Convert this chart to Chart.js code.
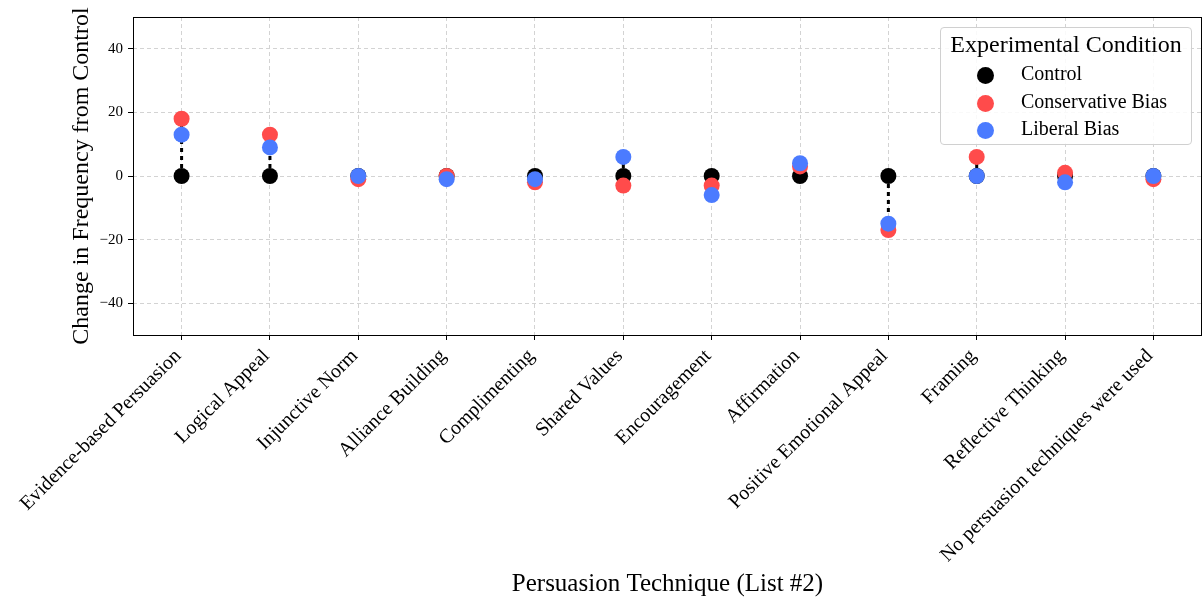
<!DOCTYPE html>
<html>
<head>
<meta charset="utf-8">
<script src="https://cdn.jsdelivr.net/npm/chart.js@4"></script>
<style>
html,body{margin:0;padding:0;background:#fff;overflow:hidden;}
#wrap{position:relative;width:1203px;height:604px;overflow:hidden;}
#legend{position:absolute;left:940px;top:27px;width:252px;height:118px;border:1px solid #d0d0d0;border-radius:4px;background:rgba(255,255,255,0.85);font-family:"Liberation Serif",serif;box-sizing:border-box;}
#legend .t{text-align:center;font-size:24px;margin-top:3px;white-space:nowrap;}
#legend .it{position:absolute;font-size:20px;white-space:nowrap;}
#legend .dot{position:absolute;width:17px;height:17px;border-radius:50%;}
</style>
</head>
<body>
<div id="wrap">
<canvas id="c" width="1203" height="604"></canvas>
<div id="legend"></div>
</div>
<script>
const categories = ["Evidence-based Persuasion","Logical Appeal","Injunctive Norm","Alliance Building","Complimenting","Shared Values","Encouragement","Affirmation","Positive Emotional Appeal","Framing","Reflective Thinking","No persuasion techniques were used"];
const controlVals = [0,0,0,0,0,0,0,0,0,0,0,0];
const conservativeVals = [18,13,-1,0,-2,-3,-3,3,-17,6,1,-1];
const liberalVals = [13,9,0,-1,-1,6,-6,4,-15,0,-2,0];
const yTicks = [-40,-20,0,20,40];
const seriesNames = ["Control","Conservative Bias","Liberal Bias"];
const seriesColors = ["#000000","#ff4b4b","#4b7bff"];

const serif = '"Liberation Serif", serif';
const toPts = arr => arr.map((v,i)=>({x:i,y:v}));
// dashed connectors from control to each bias value
const linePts = [];
categories.forEach((c,i)=>{
  [conservativeVals[i], liberalVals[i]].forEach(v=>{
    linePts.push({x:i,y:controlVals[i]});
    linePts.push({x:i,y:v});
    linePts.push({x:i,y:null});
  });
});

// plot area right edge as in the reference
const PLOT_RIGHT = 1202;
const stretch = {
  id:'stretch',
  afterLayout(chart){
    const a = chart.chartArea, x = chart.scales.x;
    if (a.right < PLOT_RIGHT){
      a.right = PLOT_RIGHT; a.width = a.right - a.left;
      x.right = PLOT_RIGHT; x.width = x.right - x.left;
      x.configure();
    }
  }
};

const frame = {
  id:'frame',
  afterDraw(chart){
    const a = chart.chartArea, ctx = chart.ctx;
    ctx.save();
    ctx.strokeStyle='#000';ctx.lineWidth=1;
    ctx.strokeRect(Math.round(a.left)+0.5,Math.round(a.top)+0.5,Math.round(a.right-a.left)-1,Math.round(a.bottom-a.top));
    ctx.restore();
  }
};

const zeroPad = s => {s.paddingLeft=0;s.paddingRight=0;s.paddingTop=0;s.paddingBottom=0;};

const ptStyle = (i)=>({
  label: seriesNames[i], type:'scatter', data: toPts([controlVals,conservativeVals,liberalVals][i]),
  backgroundColor: seriesColors[i], borderColor: seriesColors[i], pointRadius: 8, pointHoverRadius: 8,
  borderWidth:0, order: 3-i
});

const ch = new Chart(document.getElementById('c'), {
  type:'scatter',
  data:{datasets:[ptStyle(0),ptStyle(1),ptStyle(2),{
    label:'connector', type:'line', data: linePts, showLine:true, spanGaps:false,
    borderColor:'#000', borderWidth:3, borderDash:[4,4], pointRadius:0, order:10
  }]},
  options:{
    responsive:false, animation:false, events:[],
    layout:{padding:{left:0,right:1,top:17,bottom:0}},
    plugins:{legend:{display:false},tooltip:{enabled:false}},
    scales:{
      x:{type:'linear',min:-0.55,max:11.55,
        afterBuildTicks(s){s.ticks=categories.map((c,i)=>({value:i}));},
        afterFit(s){s.height=269;zeroPad(s);},
        ticks:{autoSkip:false,maxRotation:45,minRotation:45,color:'#000',font:{family:serif,size:20},padding:1,
          callback:(v)=>categories[v]+' '},
        grid:{color:'#d3d3d3',tickColor:'#000',tickLength:5,drawTicks:true},
        border:{display:false,dash:[4,3]},
        title:{display:true,text:'Persuasion Technique (List #2)',color:'#000',font:{family:serif,size:25},padding:{top:0,bottom:5}}
      },
      y:{min:-50,max:50,
        afterBuildTicks(s){s.ticks=yTicks.map(v=>({value:v}));},
        afterFit(s){s.width=133;zeroPad(s);},
        ticks:{color:'#000',font:{family:serif,size:15},padding:5,
          callback:(v)=> (v<0?'\u2212'+Math.abs(v):String(v))},
        grid:{color:'#d3d3d3',tickColor:'#000',tickLength:5},
        border:{display:false,dash:[4,3]},
        title:{display:true,text:'Change in Frequency from Control',color:'#000',font:{family:serif,size:24},padding:{top:67,bottom:0}}
      }
    }
  },
  plugins:[stretch, frame]
});

// legend built from series arrays
const lg = document.getElementById('legend');
let html = '<div class="t">Experimental Condition</div>';
seriesNames.forEach((n,i)=>{
  html += '<div class="it" style="top:'+(34+i*27.5)+'px;left:80px"><span class="dot" style="left:-44px;top:5px;background:'+seriesColors[i]+'"></span>'+n+'</div>';
});
lg.innerHTML = html;
</script>
</body>
</html>
